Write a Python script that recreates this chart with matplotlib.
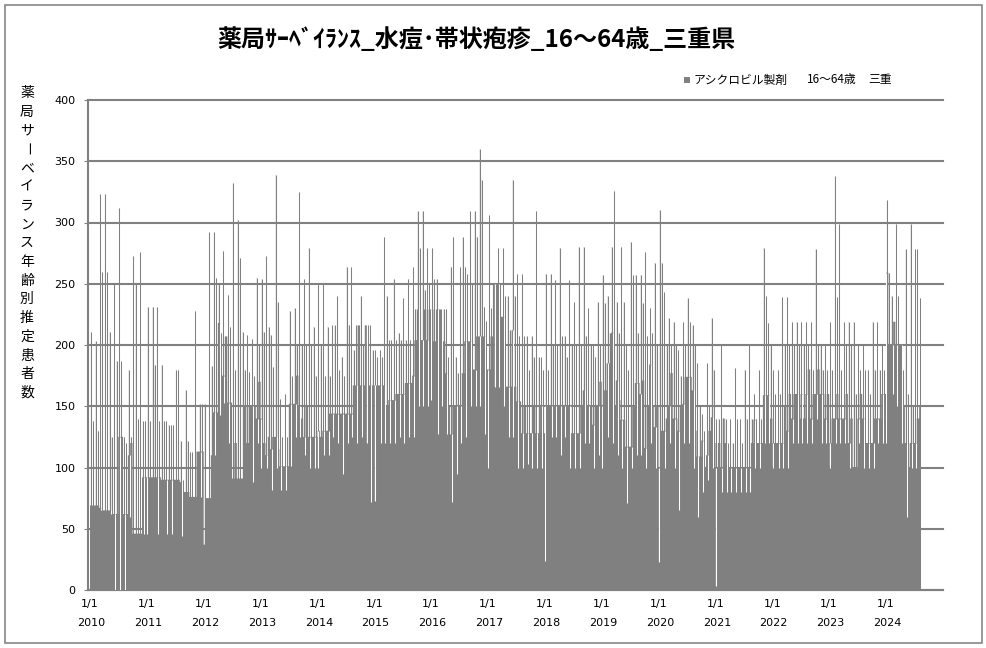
import numpy as np
import pandas as pd
import matplotlib
matplotlib.use("Agg")
import matplotlib.pyplot as plt
import matplotlib.dates as mdates
from matplotlib.patches import Rectangle

# 月別の読み取り値 (2010/01 - 2024/08)
months = pd.date_range("2010-01-01", "2024-08-01", freq="MS")
last_day = pd.Timestamp("2024-08-10")

# 月前半の水準
level_first = [
    69, 69, 67, 65, 65, 62, 125, 62, 110, 46, 46, 92,            # 2010
    92, 92, 92, 90, 90, 90, 90, 88, 80, 76, 76, 113,             # 2011
    37, 75, 145, 218, 175, 153, 91, 91, 91, 120, 150, 140,       # 2012
    140, 110, 115, 125, 101, 101, 152, 152, 150, 125, 125, 125,  # 2013
    130, 130, 130, 144, 144, 144, 144, 144, 167, 167, 216, 167,  # 2014
    167, 167, 167, 155, 155, 160, 160, 169, 175, 229, 204, 204,  # 2015
    229, 229, 229, 177, 127, 150, 150, 203, 203, 180, 207, 207,  # 2016
    180, 250, 250, 223, 166, 212, 154, 128, 128, 128, 128, 150,  # 2017
    150, 150, 150, 150, 150, 150, 128, 128, 163, 150, 135, 150,  # 2018
    150, 185, 210, 171, 139, 117, 117, 169, 160, 116, 184, 133,  # 2019
    100, 130, 150, 140, 130, 152, 174, 163, 109, 122, 110, 141,  # 2020
    100, 100, 120, 100, 100, 100, 100, 100, 139, 120, 159, 159,  # 2021
    120, 120, 120, 130, 140, 160, 160, 160, 140, 160, 160, 140,  # 2022
    120, 140, 140, 140, 120, 100, 140, 140, 120, 120, 140, 160,  # 2023
    259, 200, 200, 200, 120, 120, 120, 150,                      # 2024
]
# 月後半の水準
level_second = [
    69, 69, 65, 65, 62, 62, 125, 62, 120, 46, 46, 92,
    92, 92, 92, 90, 90, 90, 90, 80, 80, 76, 113, 113,
    75, 110, 145, 175, 207, 153, 120, 91, 150, 150, 150, 170,
    120, 125, 125, 115, 101, 101, 152, 175, 140, 150, 125, 125,
    125, 130, 144, 144, 144, 144, 144, 167, 216, 167, 167, 167,
    167, 167, 150, 155, 160, 160, 169, 169, 204, 204, 229, 229,
    203, 229, 203, 150, 150, 150, 177, 203, 180, 207, 207, 180,
    207, 250, 223, 166, 166, 166, 154, 150, 128, 150, 128, 128,
    150, 150, 150, 150, 150, 128, 128, 150, 150, 150, 150, 170,
    163, 185, 150, 155, 139, 117, 150, 169, 171, 150, 150, 150,
    130, 140, 177, 140, 150, 174, 174, 130, 109, 100, 130, 120,
    120, 140, 100, 100, 100, 100, 100, 120, 120, 120, 159, 140,
    120, 120, 150, 160, 160, 140, 140, 180, 160, 180, 160, 160,
    140, 160, 140, 160, 140, 100, 160, 120, 120, 140, 140, 160,
    200, 219, 200, 150, 100, 120, 140, 100,
]
# 月内の突出値 (1本目, 2本目)
peak_a = [
    211, 203, 323, 323, 211, 250, 312, 125, 180, 273, 140, 138,
    231, 231, 231, 184, 138, 135, 180, 122, 163, 113, 228, 152,
    152, 292, 292, 250, 277, 241, 332, 302, 211, 208, 205, 255,
    254, 273, 208, 339, 156, 160, 228, 230, 325, 254, 279, 215,
    250, 250, 215, 216, 240, 190, 264, 264, 216, 240, 216, 216,
    196, 196, 288, 204, 254, 210, 238, 254, 264, 309, 309, 279,
    279, 254, 229, 229, 264, 190, 264, 264, 309, 309, 360, 231,
    306, 250, 279, 279, 240, 335, 258, 258, 207, 207, 309, 190,
    258, 258, 253, 279, 207, 253, 235, 280, 280, 230, 200, 235,
    257, 240, 280, 235, 280, 200, 284, 257, 257, 276, 230, 267,
    310, 243, 222, 219, 196, 219, 238, 216, 185, 144, 185, 222,
    140, 200, 140, 140, 181, 140, 180, 200, 160, 180, 279, 218,
    180, 180, 239, 239, 219, 219, 219, 219, 219, 278, 200, 200,
    219, 338, 299, 219, 219, 219, 200, 200, 180, 219, 219, 200,
    318, 240, 299, 200, 278, 299, 278, 238,
]
peak_b = [
    138, 130, 260, 260, 125, 187, 187, 120, 125, 250, 276, 138,
    138, 184, 138, 138, 135, 135, 180, 90, 122, 113, 113, 152,
    75, 183, 255, 210, 207, 215, 180, 271, 180, 178, 175, 200,
    211, 215, 182, 235, 125, 125, 175, 200, 200, 200, 200, 175,
    200, 175, 175, 216, 180, 175, 216, 196, 200, 200, 216, 196,
    190, 190, 240, 204, 204, 204, 204, 204, 229, 279, 245, 250,
    254, 229, 229, 190, 288, 177, 288, 258, 250, 288, 335, 220,
    230, 230, 250, 240, 212, 240, 207, 207, 180, 190, 190, 180,
    180, 200, 200, 207, 190, 200, 200, 200, 207, 200, 190, 200,
    234, 210, 326, 210, 235, 180, 257, 210, 234, 207, 210, 200,
    267, 200, 200, 200, 175, 200, 219, 200, 150, 130, 150, 180,
    140, 140, 120, 120, 140, 120, 140, 140, 140, 140, 240, 200,
    160, 160, 200, 200, 200, 200, 200, 200, 180, 200, 180, 180,
    180, 239, 180, 200, 200, 160, 180, 180, 160, 180, 180, 180,
    259, 219, 240, 180, 160, 150, 278, 150,
]
# 月内の落ち込み値
dip = [
    69, 69, 65, 65, 62, 0, 0, 0, 60, 46, 46, 46,
    46, 92, 46, 90, 46, 46, 90, 44, 80, 76, 76, 76,
    37, 75, 110, 143, 153, 120, 91, 91, 91, 120, 88, 120,
    100, 100, 82, 100, 82, 82, 101, 125, 125, 110, 100, 100,
    100, 110, 110, 125, 120, 95, 120, 125, 120, 125, 120, 72,
    73, 120, 120, 120, 120, 125, 120, 125, 125, 150, 150, 150,
    155, 127, 150, 127, 72, 95, 120, 125, 150, 150, 150, 127,
    100, 166, 166, 150, 125, 125, 100, 100, 103, 100, 100, 100,
    24, 125, 125, 110, 125, 100, 100, 100, 120, 120, 100, 110,
    100, 125, 120, 110, 100, 71, 100, 110, 110, 100, 120, 100,
    23, 100, 120, 100, 65, 120, 120, 100, 60, 80, 90, 100,
    3, 80, 80, 80, 80, 80, 80, 80, 100, 100, 120, 120,
    100, 100, 100, 100, 120, 120, 120, 120, 120, 140, 120, 120,
    100, 120, 120, 120, 100, 100, 120, 100, 100, 100, 120, 120,
    120, 160, 150, 120, 60, 100, 100, 100,
]

years = list(range(2010, 2025))
title = "薬局ｻｰﾍﾞｲﾗﾝｽ_水痘･帯状疱疹_16～64歳_三重県"
ylabel = "薬局サーベイランス年齢別推定患者数"
legend_parts = ["アシクロビル製剤", "16～64歳", "三重"]

GRAY = "#808080"
JP = ["Noto Sans CJK JP", "DejaVu Sans"]

# 日別系列を組み立てる
days = pd.date_range(months[0], last_day, freq="D")
midx = (days.year - 2010) * 12 + days.month - 1
lvl = np.where(days.day <= 15, np.array(level_first)[midx], np.array(level_second)[midx]).astype(float)
vals = lvl.copy()

peak_x, peak_h, dip_x, dip_lo, dip_hi = [], [], [], [], []
for i, m in enumerate(months):
    for off, h in ((6, peak_a[i]), (20, peak_b[i])):
        d = m + pd.Timedelta(days=off)
        if d <= last_day:
            k = (d - days[0]).days
            if h > lvl[k]:
                vals[k] = h
                peak_x.append(mdates.date2num(d))
                peak_h.append(h)
    d = m + pd.Timedelta(days=2 if m.month == 1 else 12)
    if d <= last_day:
        k = (d - days[0]).days
        if dip[i] < lvl[k]:
            vals[k] = dip[i]
            dip_x.append(mdates.date2num(d))
            dip_lo.append(dip[i])
            dip_hi.append(lvl[k])

edges = mdates.date2num(days.append(pd.DatetimeIndex([last_day + pd.Timedelta(days=1)])))

fig = plt.figure(figsize=(9.87, 6.48), dpi=100)
fig.patches.append(Rectangle((5 / 987, 5 / 648), 977 / 987, 638 / 648, transform=fig.transFigure,
                             fill=False, edgecolor="#888888", linewidth=1.2))

ax = fig.add_axes([88 / 987, 58 / 648, 855 / 987, 490 / 648])
ax.stairs(vals, edges, fill=True, color=GRAY, linewidth=0, zorder=2)
ax.vlines(peak_x, 0, peak_h, colors=GRAY, linewidth=0.75, zorder=3)
ax.vlines(dip_x, dip_lo, dip_hi, colors="white", linewidth=0.75, zorder=3)

ax.set_xlim(mdates.date2num(pd.Timestamp("2009-12-19")), mdates.date2num(pd.Timestamp("2025-01-01")))
ax.set_ylim(0, 400)
ax.set_yticks(range(0, 401, 50))
ax.yaxis.grid(True, color=GRAY, linewidth=1.5, zorder=0)
for gl in ax.get_ygridlines():
    gl.set_clip_on(False)
ax.set_axisbelow(True)

for s in ("top", "right"):
    ax.spines[s].set_visible(False)
for s in ("left", "bottom"):
    ax.spines[s].set_color(GRAY)
    ax.spines[s].set_linewidth(1.5)

ax.tick_params(axis="y", length=3, color=GRAY, pad=6, labelsize=8)
for lab in ax.get_yticklabels():
    lab.set_fontfamily("DejaVu Sans")

jan1 = [mdates.date2num(pd.Timestamp(f"{y}-01-01")) for y in years]
ax.set_xticks(jan1)
ax.tick_params(axis="x", direction="in", length=3, color="#b0b0b0", labelbottom=False)
for x, y in zip(jan1, years):
    ax.annotate("1/1", (x, 0), xycoords=("data", "axes fraction"), xytext=(0, -10),
                textcoords="offset points", ha="center", va="center", fontsize=8, family="DejaVu Sans")
    ax.annotate(str(y), (x, 0), xycoords=("data", "axes fraction"), xytext=(1, -23.5),
                textcoords="offset points", ha="center", va="center", fontsize=8, family="DejaVu Sans")

fig.text(476.5 / 987, 1 - 40 / 648, title, ha="center", va="center", fontsize=17.3,
         fontweight="bold", family=JP)

# 凡例
fig.patches.append(Rectangle((684 / 987, 1 - 83 / 648), 6 / 987, 6 / 648, transform=fig.transFigure,
                             facecolor=GRAY, edgecolor="none"))
for (xpos, ha), part in zip(((694, "left"), (832, "center"), (868, "left")), legend_parts):
    fig.text(xpos / 987, 1 - 80 / 648, part, ha=ha, va="center", fontsize=8.5, family=JP)

# 縦書きの軸ラベル
for i, ch in enumerate(ylabel):
    fig.text(27 / 987, 1 - (93 + 18.75 * i) / 648, ch, ha="center", va="center", fontsize=10,
             family=JP, rotation=-90 if ch == "ー" else 0)

fig.savefig("out.png", dpi=100)
